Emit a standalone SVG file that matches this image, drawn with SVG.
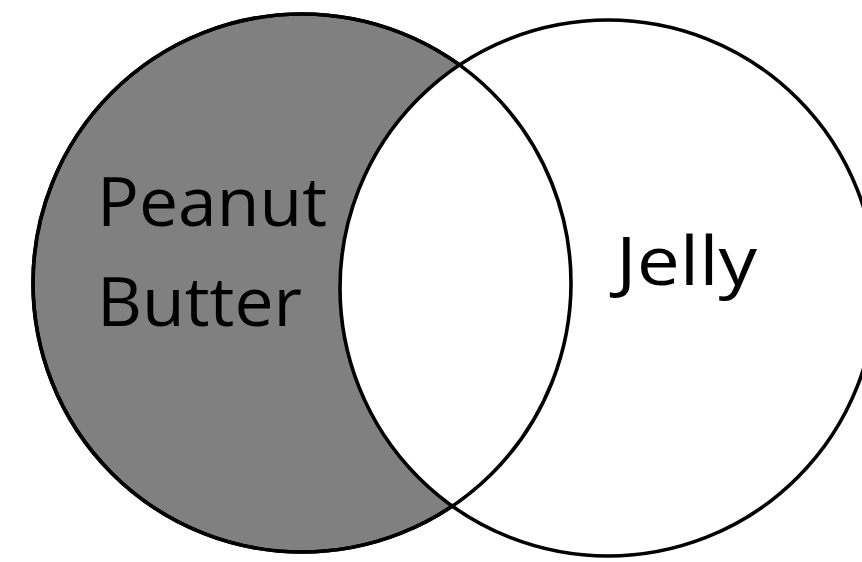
<svg xmlns="http://www.w3.org/2000/svg" width="862" height="562" viewBox="0 0 862 562">
<style>
.ring{stroke:#000;stroke-width:3.6}
.lbl{font-family:"Open Sans","Liberation Sans",sans-serif;font-size:68px;fill:#000}
</style>
<rect width="862" height="562" fill="#fff"/>
<g id="peanut-butter">
<circle class="ring" cx="302" cy="283" r="269" fill="#808080"/>
</g>
<g id="jelly">
<circle class="ring" cx="608" cy="288" r="268" fill="#fff"/>
</g>
<g id="peanut-butter-outline">
<circle class="ring" cx="302" cy="283" r="269" fill="none"/>
</g>
<g id="labels">
<text class="lbl" x="97" y="226" textLength="230" lengthAdjust="spacingAndGlyphs">Peanut</text>
<text class="lbl" x="97" y="326" textLength="205" lengthAdjust="spacingAndGlyphs">Butter</text>
<text class="lbl" x="616" y="285" textLength="141" lengthAdjust="spacingAndGlyphs">Jelly</text>
</g>
</svg>
